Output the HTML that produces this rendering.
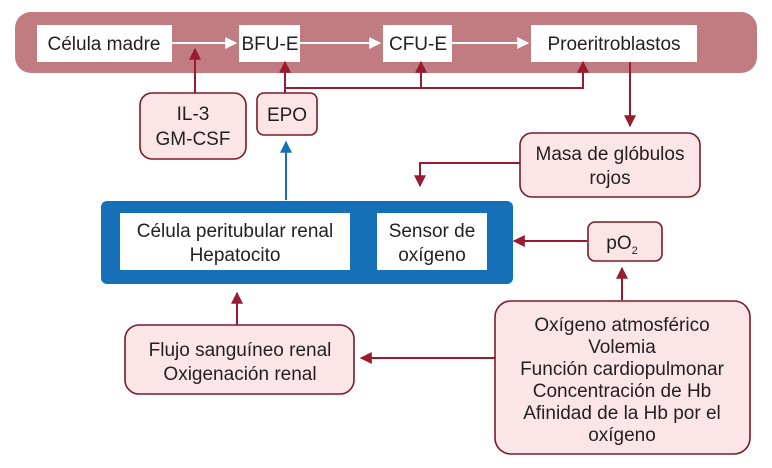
<!DOCTYPE html>
<html><head><meta charset="utf-8"><style>
html,body{margin:0;padding:0;background:#fff;width:772px;height:468px;overflow:hidden}
text{font-family:"Liberation Sans Narrow","Liberation Sans",sans-serif;fill:#231f20;font-size:19px}
</style></head><body>
<svg width="772" height="468" viewBox="0 0 772 468" xmlns="http://www.w3.org/2000/svg">
<defs>
<marker id="r" viewBox="0 0 10 10" refX="9" refY="5" markerWidth="6" markerHeight="6" orient="auto-start-reverse"><path d="M0,0 L10,5 L0,10 z" fill="#9b1b2e"/></marker>
<marker id="w" viewBox="0 0 10 10" refX="9" refY="5" markerWidth="6" markerHeight="6" orient="auto"><path d="M0,0 L10,5 L0,10 z" fill="#fff"/></marker>
<marker id="b" viewBox="0 0 10 10" refX="9" refY="5" markerWidth="6" markerHeight="6" orient="auto"><path d="M0,0 L10,5 L0,10 z" fill="#1570b8"/></marker>
</defs>
<rect x="15" y="12" width="742" height="61" rx="16" fill="#c07c80"/>
<g fill="#fff">
<rect x="37" y="25" width="135" height="37"/>
<rect x="239" y="25" width="61" height="37"/>
<rect x="383" y="25" width="69" height="37"/>
<rect x="531" y="25" width="166" height="37"/>
</g>
<g stroke="#fff" stroke-width="2" fill="none">
<line x1="172" y1="43" x2="236" y2="43" marker-end="url(#w)"/>
<line x1="300" y1="43" x2="380" y2="43" marker-end="url(#w)"/>
<line x1="452" y1="43" x2="528" y2="43" marker-end="url(#w)"/>
</g>
<text x="104" y="50" text-anchor="middle">Célula madre</text>
<text x="270" y="50" text-anchor="middle">BFU-E</text>
<text x="418" y="50" text-anchor="middle">CFU-E</text>
<text x="614" y="50" text-anchor="middle">Proeritroblastos</text>

<g stroke="#9b1b2e" stroke-width="2" fill="none">
<line x1="195" y1="93" x2="195" y2="49" marker-end="url(#r)"/>
<line x1="285" y1="93" x2="285" y2="62" marker-end="url(#r)"/>
<polyline points="285,88 583,88 583,62" marker-end="url(#r)"/>
<line x1="421" y1="88" x2="421" y2="62" marker-end="url(#r)"/>
<line x1="630" y1="62" x2="630" y2="126" marker-end="url(#r)"/>
<polyline points="520,163 420,163 420,186" marker-end="url(#r)"/>
<line x1="587" y1="241" x2="514" y2="241" marker-end="url(#r)"/>
<line x1="622" y1="300" x2="622" y2="268" marker-end="url(#r)"/>
<line x1="495" y1="358" x2="361" y2="358" marker-end="url(#r)"/>
<line x1="237" y1="325" x2="237" y2="293" marker-end="url(#r)"/>
</g>
<line x1="286" y1="200" x2="286" y2="142" stroke="#1570b8" stroke-width="2" marker-end="url(#b)"/>

<g fill="#fbe5e6" stroke="#7a1b28" stroke-width="1.6">
<rect x="140" y="93" width="106" height="66" rx="12"/>
<rect x="257" y="93" width="60" height="42" rx="7"/>
<rect x="520" y="133" width="180" height="64" rx="12"/>
<rect x="588" y="222" width="74" height="39" rx="7"/>
<rect x="495" y="301" width="255" height="153" rx="16"/>
<rect x="125" y="325" width="229" height="69" rx="14"/>
</g>
<text x="193" y="120" text-anchor="middle">IL-3</text>
<text x="193" y="145" text-anchor="middle">GM-CSF</text>
<text x="287" y="121" text-anchor="middle">EPO</text>
<text x="610" y="160" text-anchor="middle">Masa de glóbulos</text>
<text x="610" y="184" text-anchor="middle">rojos</text>
<text x="622" y="249" text-anchor="middle">pO<tspan font-size="11" dy="5">2</tspan></text>

<rect x="101" y="201" width="412" height="83" rx="6" fill="#1570b8"/>
<rect x="120" y="213" width="230" height="57" fill="#fff"/>
<rect x="377" y="213" width="110" height="57" fill="#fff"/>
<text x="235" y="237" text-anchor="middle">Célula peritubular renal</text>
<text x="235" y="261" text-anchor="middle">Hepatocito</text>
<text x="432" y="237" text-anchor="middle">Sensor de</text>
<text x="432" y="261" text-anchor="middle">oxígeno</text>

<text x="622" y="331" text-anchor="middle">Oxígeno atmosférico</text>
<text x="622" y="353" text-anchor="middle">Volemia</text>
<text x="622" y="375" text-anchor="middle">Función cardiopulmonar</text>
<text x="622" y="397" text-anchor="middle">Concentración de Hb</text>
<text x="622" y="419" text-anchor="middle">Afinidad de la Hb por el</text>
<text x="622" y="441" text-anchor="middle">oxígeno</text>
<text x="240" y="356" text-anchor="middle">Flujo sanguíneo renal</text>
<text x="240" y="380" text-anchor="middle">Oxigenación renal</text>
</svg>
</body></html>
